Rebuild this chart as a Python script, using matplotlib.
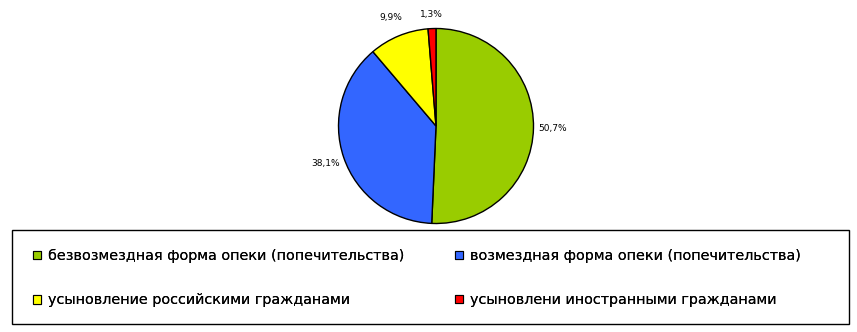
import matplotlib
matplotlib.use("Agg")
import matplotlib.pyplot as plt
from matplotlib.patches import Patch, Rectangle

# данные
labels = ["безвозмездная форма опеки (попечительства)",
          "возмездная форма опеки (попечительства)",
          "усыновление российскими гражданами",
          "усыновлени иностранными гражданами"]
shares = [50.7, 38.1, 9.9, 1.3]
colors = ["#99CC00", "#3366FF", "#FFFF00", "#FF0000"]

W, H = 857, 332
fig = plt.figure(figsize=(W / 100, H / 100), dpi=100)

# круг: центр (436,126), радиус ~97.5 px
cx, cy, r = 436, 126, 97.5
ax = fig.add_axes([(cx - r) / W, (H - cy - r) / H, 2 * r / W, 2 * r / H])

def fmt(p):
    return f"{p:.1f}%".replace(".", ",")

wedges, texts, autotexts = ax.pie(
    shares, colors=colors, startangle=90, counterclock=False,
    autopct=fmt, pctdistance=1.2,
    wedgeprops=dict(edgecolor="black", linewidth=1.0),
    textprops=dict(fontsize=6.5, color="black"))
# маленькая подпись чуть ближе к кругу
x, y = autotexts[3].get_position()
autotexts[3].set_position((x * 0.95, y * 0.95))
ax.set_aspect("equal")
ax.set_xlim(-1, 1)
ax.set_ylim(-1, 1)

# рамка легенды
fig.patches.append(Rectangle((12 / W, (H - 324) / H), 837 / W, 94 / H,
                             transform=fig.transFigure, fill=False,
                             edgecolor="black", linewidth=1.0))

handles = [Patch(facecolor=c, edgecolor="black", linewidth=0.8) for c in colors]
for col, x0 in enumerate([33, 455]):
    leg = fig.legend([handles[col], handles[col + 2]], [labels[col], labels[col + 2]],
                     loc="upper left", bbox_to_anchor=(x0 / W, (H - 249) / H),
                     frameon=False, fontsize=10.35, handlelength=0.56, handleheight=0.56,
                     handletextpad=0.46, labelspacing=2.1, borderpad=0, borderaxespad=0)
    fig.add_artist(leg)

fig.savefig("out.png", dpi=100)
